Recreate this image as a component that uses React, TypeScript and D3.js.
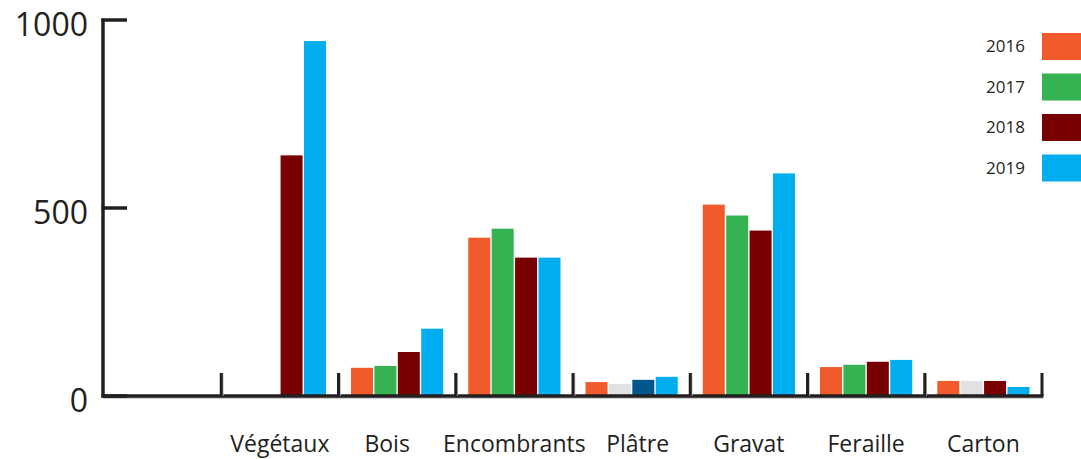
import { FC, useMemo } from 'react';
import * as d3 from 'd3';

const WIDTH = 1081;
const HEIGHT = 459;

// first band is empty in the original chart
const categories = ['', 'Végétaux', 'Bois', 'Encombrants', 'Plâtre', 'Gravat', 'Feraille', 'Carton'];
const years = ['2016', '2017', '2018', '2019'];

const values2016 = [null, null, 75, 421, 37, 509, 77, 40];
const values2017 = [null, null, 80, 445, 32, 480, 83, 40];
const values2018 = [null, 640, 117, 368, 43, 440, 91, 40];
const values2019 = [null, 944, 179, 368, 51, 592, 96, 24];

const yTicks = [0, 500, 1000];

const yearColors: Record<string, string> = {
  '2016': '#f15a2b',
  '2017': '#35b353',
  '2018': '#780000',
  '2019': '#00aeef',
};
// some categories were drawn with other colours in the source
const colorOverrides: Record<string, Record<string, string>> = {
  'Plâtre': { '2017': '#e0e1e3', '2018': '#00578e' },
  'Carton': { '2017': '#e0e1e3' },
};
// labels are not quite centred in the source
const labelShift: Record<string, number> = { 'Bois': -10, 'Plâtre': 6 };

const AXIS = '#231f20';
const FONT = "'Open Sans', 'Noto Sans', sans-serif";

const App: FC = () => {
  const series = [values2016, values2017, values2018, values2019];

  const xScale = useMemo(
    () => d3.scaleBand<string>().domain(categories).range([104, 1042]),
    []
  );
  const subScale = useMemo(
    () => d3.scaleBand<string>().domain(years).range([0, xScale.bandwidth()]).paddingInner(0.06).paddingOuter(0.535),
    [xScale]
  );
  const yScale = useMemo(() => d3.scaleLinear().domain([0, 1000]).range([396, 20]), []);

  const bars: { key: string; x: number; y: number; h: number; color: string }[] = [];
  categories.forEach((cat, ci) => {
    years.forEach((yr, yi) => {
      const v = series[yi][ci];
      if (v == null) return;
      const color = colorOverrides[cat]?.[yr] ?? yearColors[yr];
      bars.push({
        key: `${cat}-${yr}`,
        x: (xScale(cat) ?? 0) + (subScale(yr) ?? 0),
        y: yScale(v),
        h: yScale(0) - yScale(v),
        color,
      });
    });
  });

  const x0 = xScale.range()[0];
  const x1 = xScale.range()[1];
  const y0 = yScale(0);

  return (
    <svg width={WIDTH} height={HEIGHT} style={{ position: 'absolute', left: 0, top: 0 }}>
      <rect width={WIDTH} height={HEIGHT} fill="#fff" />
      {bars.map((b) => (
        <rect key={b.key} x={b.x} y={b.y} width={subScale.bandwidth()} height={b.h} fill={b.color} />
      ))}

      {/* x axis */}
      <line x1={x0 - 1} x2={x1 + 1} y1={y0 + 2} y2={y0 + 2} stroke="#bcbcbc" strokeWidth={1.5} />
      <line x1={x0 - 1.5} x2={x1 + 1.5} y1={y0} y2={y0} stroke={AXIS} strokeWidth={3.5} />
      {categories.slice(1).map((c) => {
        const xt = (xScale(c) ?? 0);
        return (
          <g key={`tick-${c}`}>
            <line x1={xt + 1.5} x2={xt + 1.5} y1={y0 - 23} y2={y0} stroke="#b5b5b5" strokeWidth={1.5} />
            <line x1={xt} x2={xt} y1={y0 - 23} y2={y0} stroke={AXIS} strokeWidth={3} />
          </g>
        );
      })}
      <line x1={x1} x2={x1} y1={y0 - 23} y2={y0} stroke={AXIS} strokeWidth={3} />
      {categories.filter((c) => c).map((c) => (
        <text
          key={`lab-${c}`}
          x={(xScale(c) ?? 0) + xScale.bandwidth() / 2 + (labelShift[c] ?? 0)}
          y={452}
          textAnchor="middle"
          fontFamily={FONT}
          fontSize={23}
          fill={AXIS}
        >
          {c}
        </text>
      ))}

      {/* y axis */}
      <line x1={x0 - 1} x2={x0 - 1} y1={yScale(1000) - 1.5} y2={y0 + 1.5} stroke={AXIS} strokeWidth={3.5} />
      {yTicks.map((t) => (
        <g key={`yt-${t}`}>
          <line x1={x0 - 2.5} x2={127} y1={yScale(t)} y2={yScale(t)} stroke={AXIS} strokeWidth={3.5} />
          <text
            x={88}
            y={yScale(t) + 5}
            dy="0.35em"
            textAnchor="end"
            fontFamily={FONT}
            fontSize={32}
            fill={AXIS}
          >
            {t}
          </text>
        </g>
      ))}

      {/* legend */}
      {years.map((yr, i) => (
        <g key={`leg-${yr}`} transform={`translate(0, ${33 + i * 40.5})`}>
          <rect x={1042} y={0} width={39} height={27} fill={yearColors[yr]} />
          <text x={1025} y={13.5} dy="0.35em" textAnchor="end" fontFamily={FONT} fontSize={17} fill={AXIS}>
            {yr}
          </text>
        </g>
      ))}
    </svg>
  );
};

export default App;
